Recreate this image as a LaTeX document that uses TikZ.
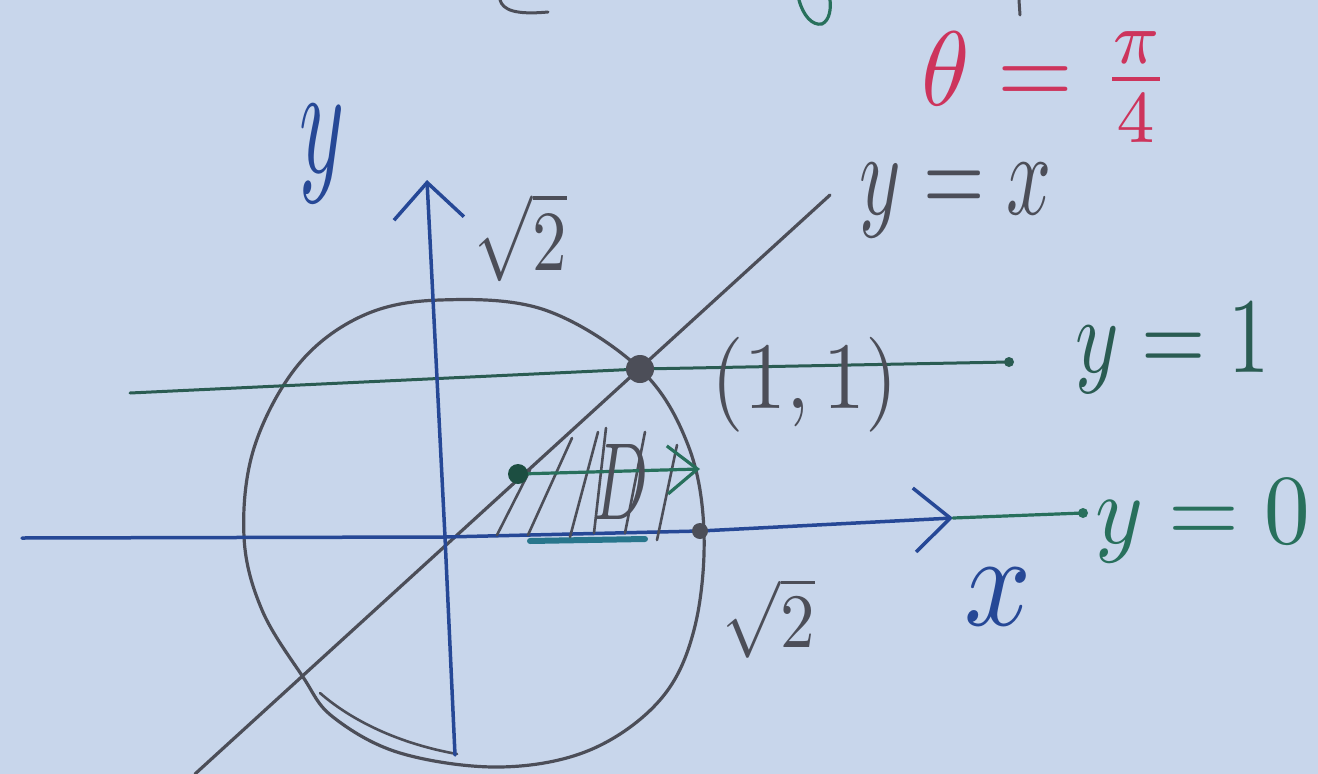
\documentclass[tikz,border=0pt]{standalone}
\usepackage{graphicx}
\usetikzlibrary{arrows.meta}
\definecolor{paper}{RGB}{200,214,235}
\definecolor{penblue}{RGB}{38,72,150}
\definecolor{pencil}{RGB}{76,78,88}
\definecolor{pengreen}{RGB}{40,112,92}
\definecolor{darkgreen}{RGB}{42,92,82}
\definecolor{stripteal}{RGB}{40,118,140}
\definecolor{penred}{RGB}{205,52,92}
\begin{document}
\begin{tikzpicture}[x=1pt,y=-1pt,
  line cap=round, line join=round,
  blueline/.style={draw=penblue,line width=3.5pt},
  pencilline/.style={draw=pencil,line width=3.2pt},
  greenline/.style={draw=pengreen,line width=3.2pt},
  hatchline/.style={draw=pencil,line width=2.6pt},
  lab/.style={inner sep=0pt,outer sep=0pt}
]
\fill[paper] (0,0) rectangle (1318,774);
\useasboundingbox (0,0) rectangle (1318,774);

% coordinates
\coordinate (O) at (445,537);
\coordinate (xL) at (22,538);
\coordinate (xA) at (700,531);
\coordinate (xT) at (953,518);
\coordinate (g0) at (1083,513);
\coordinate (yB) at (455,755);
\coordinate (yT) at (427,180);
\coordinate (dL) at (195,774);
\coordinate (dR) at (830,195);
\coordinate (P) at (640,369);
\coordinate (h1L) at (130,393);
\coordinate (h1R) at (1009,362);
\coordinate (sL) at (518,474);
\coordinate (sR) at (700,469);
\coordinate (tL) at (530,541);
\coordinate (tR) at (645,539);

% circle (hand drawn)
\draw[pencilline] plot[smooth cycle, tension=0.6] coordinates {
 (440,300) (545,310) (640,369) (688,445) (704,533) (694,630) (660,700)
 (590,750) (500,767) (400,753) (333,717) (303,677) (262,610) (244,537)
 (254,448) (298,365) (362,316)};
\draw[pencilline, line width=2.6pt] (320,693) .. controls (345,715) and (390,742) .. (457,754);

% line y = x
\draw[pencilline] (dL) -- (dR);

% line y = 1
\draw[draw=darkgreen, line width=3pt] (h1L) -- (P) -- (h1R);
\fill[darkgreen] (h1R) circle (5pt);

% axes
\draw[blueline, -{Straight Barb[length=36pt,width=64pt]}] (xL) -- (O) -- (xA) -- (xT);
\draw[greenline] (xT) -- (g0);
\fill[pengreen] (g0) circle (5pt);
\draw[blueline, -{Straight Barb[length=36pt,width=70pt]}] (yB) -- (O) -- (yT);

% teal thick segment on x-axis
\draw[draw=stripteal, line width=6pt] (tL) -- (tR);

% hatching of D
\coordinate (a1) at (497,535); \coordinate (b1) at (530,470);
\coordinate (a2) at (528,535); \coordinate (b2) at (572,438);
\coordinate (a3) at (570,537); \coordinate (b3) at (598,432);
\coordinate (a4) at (594,533); \coordinate (b4) at (606,428);
\coordinate (a5) at (625,533); \coordinate (b5) at (645,432);
\coordinate (a6) at (657,540); \coordinate (b6) at (677,445);
\foreach \i in {1,...,6}{\draw[hatchline] (a\i) -- (b\i);}

% horizontal strip arrow
\draw[greenline, -{Straight Barb[length=30pt,width=48pt]}] (sL) -- (sR);
\fill[pengreen!70!black] (sL) circle (10pt);

% dots
\fill[pencil] (P) circle (14pt);
\fill[pencil] (xA) circle (8pt);

% labels
\node[lab, text=penblue] (ylab) at (322.5,154) {\resizebox*{45pt}{98pt}{$y$}};
\node[lab, text=pencil] (rtTop) at (521,237.5) {\resizebox*{92pt}{89pt}{$\sqrt{2}$}};
\node[lab, text=penred] (thetaLab) at (1047,87) {\resizebox*{250pt}{110pt}{$\theta=\frac{\pi}{4}$}};
\node[lab, text=pencil] (yxLab) at (956,201) {\resizebox*{192pt}{74pt}{$y=x$}};
\node[lab, text=darkgreen] (y1Lab) at (1172.5,348) {\resizebox*{195pt}{90pt}{$y=1$}};
\node[lab, text=pengreen] (y0Lab) at (1202.5,521.5) {\resizebox*{215pt}{83pt}{$y=0$}};
\node[lab, text=penblue] (xLab) at (998.5,596.5) {\resizebox*{67pt}{57pt}{$x$}};
\node[lab, text=pencil] (rtLow) at (769,618) {\resizebox*{92pt}{80pt}{$\sqrt{2}$}};
\node[lab, text=pencil] (pLab) at (805,384.5) {\resizebox*{186pt}{95pt}{$(1,1)$}};
\node[lab, text=pencil] (dLab) at (621,482) {\resizebox*{55pt}{75pt}{$D$}};

% cut-off fragments at the top edge
\draw[pencilline, line width=3pt] (500,0) .. controls (503,10) and (515,15) .. (548,12);
\draw[greenline] (799,0) .. controls (803,15) and (812,26) .. (822,24) .. controls (830,20) and (831,8) .. (830,0);
\draw[pencilline, line width=3pt] (1019,0) -- (1020,15);
\end{tikzpicture}
\end{document}
